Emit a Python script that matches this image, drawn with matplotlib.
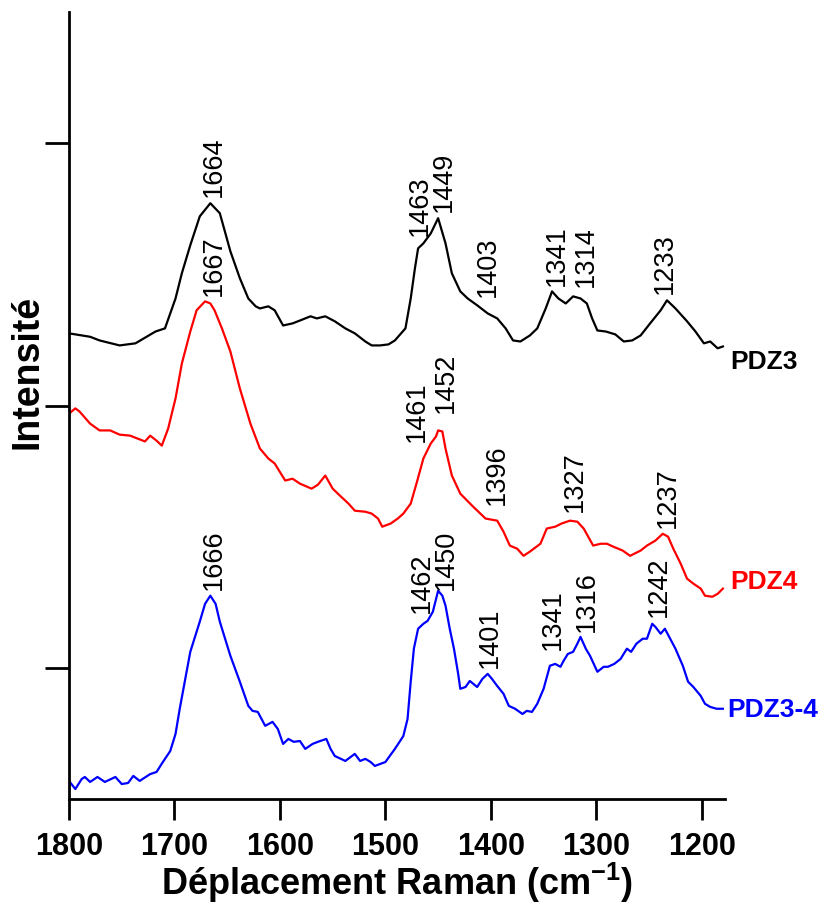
import matplotlib
matplotlib.use("Agg")
import matplotlib.pyplot as plt
import numpy as np

plt.rcParams['font.family'] = ['Liberation Sans', 'DejaVu Sans']
plt.rcParams['mathtext.fontset'] = 'custom'
plt.rcParams['mathtext.rm'] = 'Liberation Sans:bold'
plt.rcParams['mathtext.bf'] = 'Liberation Sans:bold'

# ---- PDZ3 (black) ----
pdz3_x = [1800, 1780, 1771, 1752, 1737, 1718, 1709, 1699, 1693, 1685, 1676, 1666, 1657,
          1647, 1638, 1630, 1623, 1619, 1611, 1605, 1597, 1588, 1581, 1571, 1565, 1557,
          1548, 1538, 1529, 1519, 1513, 1505, 1497, 1491, 1481, 1476, 1472, 1469, 1464,
          1457, 1450, 1443, 1437, 1429, 1422, 1413, 1403, 1394, 1386, 1379, 1372, 1363,
          1356, 1348, 1342, 1336, 1329, 1322, 1315, 1309, 1304, 1299, 1291, 1282, 1274,
          1266, 1258, 1249, 1239, 1233, 1225, 1214, 1206, 1198, 1192, 1185, 1180]
pdz3_y = [2.275, 2.262, 2.248, 2.229, 2.237, 2.282, 2.294, 2.408, 2.504, 2.611, 2.721, 2.771, 2.733,
          2.588, 2.485, 2.408, 2.378, 2.370, 2.378, 2.363, 2.305, 2.313, 2.324, 2.340, 2.332, 2.340,
          2.321, 2.294, 2.275, 2.244, 2.229, 2.229, 2.233, 2.248, 2.294, 2.408, 2.523, 2.599, 2.618,
          2.656, 2.714, 2.618, 2.504, 2.435, 2.408, 2.382, 2.351, 2.332, 2.294, 2.248, 2.244, 2.267,
          2.294, 2.370, 2.435, 2.408, 2.389, 2.416, 2.408, 2.389, 2.332, 2.286, 2.282, 2.271, 2.244,
          2.248, 2.267, 2.313, 2.363, 2.401, 2.370, 2.321, 2.282, 2.237, 2.244, 2.218, 2.225]

# ---- PDZ4 (red) ----
pdz4_x = [1800, 1794, 1790, 1780, 1771, 1761, 1752, 1742, 1735, 1728, 1723, 1717, 1712,
          1706, 1699, 1693, 1685, 1679, 1671, 1666, 1662, 1655, 1647, 1638, 1628, 1619,
          1611, 1605, 1595, 1588, 1581, 1570, 1564, 1557, 1550, 1543, 1535, 1529, 1519,
          1513, 1507, 1503, 1495, 1488, 1483, 1476, 1470, 1464, 1457, 1452, 1450, 1446,
          1443, 1437, 1429, 1417, 1405, 1394, 1388, 1382, 1375, 1369, 1363, 1353, 1347,
          1339, 1333, 1325, 1318, 1312, 1303, 1296, 1290, 1284, 1275, 1268, 1258, 1252,
          1244, 1237, 1232, 1227, 1220, 1214, 1208, 1201, 1197, 1190, 1185, 1180]
pdz4_y = [1.969, 1.989, 1.977, 1.931, 1.905, 1.905, 1.889, 1.885, 1.874, 1.863, 1.885, 1.866, 1.847,
          1.912, 2.027, 2.160, 2.282, 2.363, 2.397, 2.389, 2.363, 2.294, 2.206, 2.065, 1.931, 1.836,
          1.798, 1.779, 1.714, 1.721, 1.702, 1.683, 1.698, 1.733, 1.683, 1.656, 1.626, 1.599, 1.595,
          1.588, 1.569, 1.538, 1.550, 1.570, 1.588, 1.626, 1.710, 1.798, 1.855, 1.882, 1.905, 1.901,
          1.836, 1.733, 1.664, 1.615, 1.569, 1.561, 1.519, 1.466, 1.454, 1.427, 1.443, 1.473, 1.531,
          1.538, 1.550, 1.561, 1.557, 1.531, 1.466, 1.473, 1.473, 1.462, 1.447, 1.427, 1.447, 1.466,
          1.485, 1.511, 1.500, 1.454, 1.397, 1.340, 1.321, 1.302, 1.275, 1.271, 1.282, 1.302]

# ---- PDZ3-4 (blue) ----
pdz34_x = [1800, 1794, 1788, 1785, 1780, 1773, 1766, 1756, 1750, 1744, 1739, 1733, 1723,
           1717, 1711, 1704, 1699, 1695, 1685, 1676, 1671, 1666, 1661, 1657, 1647, 1638,
           1630, 1626, 1621, 1614, 1607, 1602, 1597, 1592, 1587, 1581, 1576, 1569, 1564,
           1556, 1552, 1548, 1538, 1533, 1529, 1524, 1519, 1514, 1510, 1500, 1491, 1483,
           1479, 1476, 1473, 1469, 1464, 1460, 1455, 1450, 1446, 1443, 1439, 1435, 1431,
           1429, 1424, 1420, 1413, 1408, 1403, 1399, 1394, 1388, 1383, 1377, 1370, 1366,
           1361, 1356, 1350, 1344, 1339, 1334, 1331, 1327, 1322, 1318, 1315, 1310, 1306,
           1299, 1293, 1289, 1283, 1277, 1271, 1267, 1262, 1256, 1252, 1247, 1244, 1239,
           1235, 1230, 1225, 1218, 1213, 1208, 1201, 1197, 1192, 1186, 1180]
pdz34_y = [0.569, 0.538, 0.576, 0.584, 0.565, 0.584, 0.565, 0.584, 0.557, 0.561, 0.588, 0.569, 0.595,
           0.603, 0.641, 0.683, 0.748, 0.844, 1.061, 1.176, 1.244, 1.275, 1.244, 1.176, 1.046, 0.947,
           0.855, 0.836, 0.832, 0.779, 0.794, 0.767, 0.710, 0.729, 0.718, 0.721, 0.691, 0.710, 0.718,
           0.729, 0.691, 0.664, 0.645, 0.660, 0.672, 0.645, 0.653, 0.641, 0.626, 0.641, 0.691, 0.740,
           0.805, 0.947, 1.073, 1.149, 1.168, 1.179, 1.214, 1.294, 1.275, 1.237, 1.149, 1.073, 0.977,
           0.920, 0.927, 0.950, 0.927, 0.958, 0.977, 0.958, 0.931, 0.901, 0.855, 0.844, 0.824, 0.836,
           0.832, 0.863, 0.920, 1.008, 1.015, 1.004, 1.027, 1.053, 1.061, 1.092, 1.118, 1.073, 1.046,
           0.985, 1.004, 1.004, 1.015, 1.034, 1.073, 1.061, 1.092, 1.111, 1.111, 1.168, 1.156, 1.130,
           1.149, 1.111, 1.073, 1.008, 0.947, 0.927, 0.893, 0.863, 0.851, 0.844, 0.844]

# ---- peak annotations: text, x position, y of text bottom ----
pdz3_peaks = ['1664', '1463', '1449', '1403', '1341', '1314', '1233']
pdz3_peak_x = [1663, 1467, 1445, 1403, 1337, 1310, 1235]
pdz3_peak_y = [2.798, 2.649, 2.740, 2.416, 2.458, 2.454, 2.427]

pdz4_peaks = ['1667', '1461', '1452', '1396', '1327', '1237']
pdz4_peak_x = [1663, 1470, 1443, 1394, 1320, 1232]
pdz4_peak_y = [2.420, 1.866, 1.977, 1.626, 1.599, 1.538]

pdz34_peaks = ['1666', '1462', '1450', '1401', '1341', '1316', '1242']
pdz34_peak_x = [1663, 1465, 1443, 1401, 1341, 1309, 1241]
pdz34_peak_y = [1.302, 1.214, 1.302, 1.004, 1.073, 1.141, 1.198]

series_names = ['PDZ3', 'PDZ4', 'PDZ3-4']
series_colors = ['black', '#ff0000', '#0000ff']
name_x = [1173, 1173, 1176]
name_y = [2.168, 1.332, 0.844]

x_ticks = [1800, 1700, 1600, 1500, 1400, 1300, 1200]
y_ticks = [1, 2, 3]

fig = plt.figure(figsize=(8.19, 9.04), dpi=100)
ax = fig.add_axes([69/819, 1 - 800/904, (725-69)/819, (800-13)/904])

data = [(pdz3_x, pdz3_y, pdz3_peaks, pdz3_peak_x, pdz3_peak_y),
        (pdz4_x, pdz4_y, pdz4_peaks, pdz4_peak_x, pdz4_peak_y),
        (pdz34_x, pdz34_y, pdz34_peaks, pdz34_peak_x, pdz34_peak_y)]

for (xs, ys, pk, pkx, pky), name, col, nx, ny in zip(data, series_names, series_colors, name_x, name_y):
    ax.plot(xs, ys, color=col, lw=1.6, solid_joinstyle='round')
    for t, px, py in zip(pk, pkx, pky):
        ax.text(px, py, t, rotation=90, ha='center', va='bottom', fontsize=19.5, color='black')
    ax.text(nx, ny, name, ha='left', va='center', fontsize=19, fontweight='bold', color=col,
            clip_on=False)

ax.set_xlim(1800, 1178)
ax.set_ylim(0.5, 3.5)
ax.set_xticks(x_ticks)
ax.set_yticks(y_ticks)
ax.set_yticklabels([])
ax.spines['top'].set_visible(False)
ax.spines['right'].set_visible(False)
for s in ['left', 'bottom']:
    ax.spines[s].set_linewidth(2)
ax.tick_params(axis='x', direction='out', length=15, width=2, labelsize=22, pad=8)
ax.tick_params(axis='y', direction='out', length=17, width=2)
for lab in ax.get_xticklabels():
    lab.set_fontweight('bold')

fig.text(397/819, 1 - 895/904, r'Déplacement Raman (cm$^{\mathbf{-1}}$)', ha='center',
         va='baseline', fontsize=26, fontweight='bold')
fig.text(27/819, 1 - 372/904, 'Intensité', rotation=90, ha='center', va='center',
         fontsize=27, fontweight='bold')

fig.savefig('out.png', dpi=100, facecolor='white')
